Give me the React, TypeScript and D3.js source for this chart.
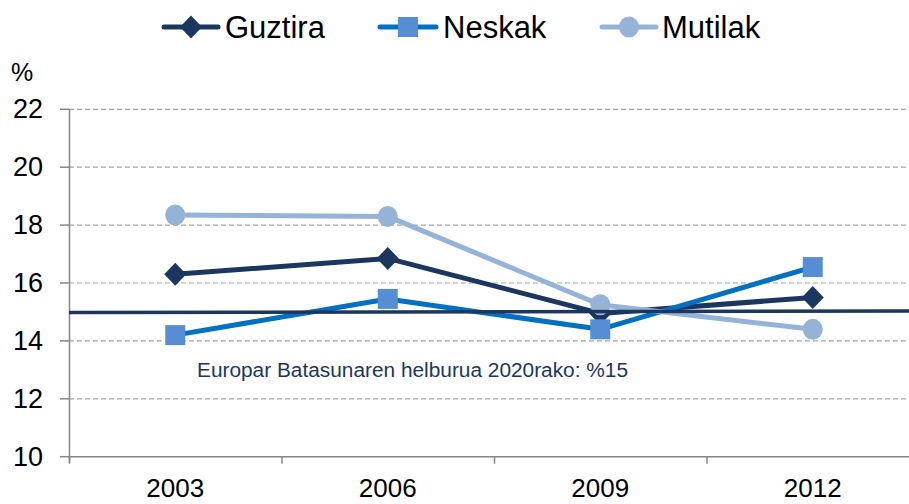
import React from "react";
import * as d3 from "d3";

const years = ["2003", "2006", "2009", "2012"];
const guztira = [16.3, 16.85, 14.95, 15.5];
const neskak = [14.2, 15.45, 14.4, 16.55];
const mutilak = [18.35, 18.3, 15.25, 14.4];
const targetValues = [14.98, 15.03];
const yTicks = [10, 12, 14, 16, 18, 20, 22];
const annotation = "Europar Batasunaren helburua 2020rako: %15";

const W = 909;
const H = 504;
const FONT = "'Liberation Sans', Arial, sans-serif";

const cNavy = "#1B365F";
const cBlue = "#0070C0";
const cBlueMarker = "#558ED5";
const cLight = "#95B3D7";
const cAxis = "#868686";
const cGrid = "#A6A6A6";

type Shape = "diamond" | "square" | "circle";

function Marker({ shape, x, y, fill }: { shape: Shape; x: number; y: number; fill: string }) {
  if (shape === "diamond") {
    const w = 11, h = 11.5;
    return <path d={`M${x},${y - h}L${x + w},${y}L${x},${y + h}L${x - w},${y}Z`} fill={fill} />;
  }
  if (shape === "square") {
    return <rect x={x - 10} y={y - 10} width={20} height={20} fill={fill} />;
  }
  return <ellipse cx={x} cy={y} rx={10} ry={10.5} fill={fill} />;
}

export default function App() {
  const x = d3.scaleBand<string>().domain(years).range([69, 919]).padding(0);
  const y = d3.scaleLinear().domain([10, 22]).range([456.7, 109.3]);
  const cx = (yr: string) => (x(yr) as number) + x.bandwidth() / 2;
  const line = d3
    .line<number>()
    .x((_, i) => cx(years[i]))
    .y((d) => y(d));

  const series = [
    { name: "Guztira", values: guztira, stroke: cNavy, fill: cNavy, shape: "diamond" as Shape },
    { name: "Neskak", values: neskak, stroke: cBlue, fill: cBlueMarker, shape: "square" as Shape },
    { name: "Mutilak", values: mutilak, stroke: cLight, fill: cLight, shape: "circle" as Shape },
  ];

  const legendPos = [
    { x1: 164, x2: 218, tx: 225 },
    { x1: 380, x2: 436, tx: 443 },
    { x1: 602, x2: 656, tx: 662 },
  ];

  const [x0, x1] = x.range();
  const targetLine = d3
    .line<number>()
    .x((_, i) => (i === 0 ? x0 : x1))
    .y((d) => y(d));

  return (
    <div style={{ position: "absolute", left: 0, top: 0 }}>
      <svg width={W} height={H} style={{ display: "block", background: "#fff" }}>
        {/* gridlines */}
        {yTicks.slice(1).map((t) => (
          <line key={t} x1={69} x2={W} y1={y(t)} y2={y(t)} stroke={cGrid} strokeWidth={1.2} strokeDasharray="5,3" />
        ))}
        {/* y axis */}
        <line x1={69.5} x2={69.5} y1={y(22)} y2={y(10) + 6} stroke={cAxis} strokeWidth={1.5} />
        {yTicks.map((t) => (
          <g key={t}>
            <line x1={60} x2={69.5} y1={y(t)} y2={y(t)} stroke={cAxis} strokeWidth={1.5} />
            <text x={43} y={y(t)} textAnchor="end" dominantBaseline="central" fontFamily={FONT} fontSize={27} fill="#000">
              {t}
            </text>
          </g>
        ))}
        <text x={11} y={81} fontFamily={FONT} fontSize={25} fill="#000">%</text>
        {/* x axis */}
        <line x1={69} x2={W} y1={y(10)} y2={y(10)} stroke={cAxis} strokeWidth={1.5} />
        {years.map((yr) => (
          <g key={yr}>
            <line x1={(x(yr) as number) + 0.5} x2={(x(yr) as number) + 0.5} y1={y(10)} y2={y(10) + 7} stroke={cAxis} strokeWidth={1.5} />
            <text x={cx(yr)} y={497} textAnchor="middle" fontFamily={FONT} fontSize={26} fill="#000">
              {yr}
            </text>
          </g>
        ))}
        {/* series */}
        {series.map((s) => (
          <g key={s.name}>
            <path d={line(s.values) || ""} fill="none" stroke={s.stroke} strokeWidth={5} strokeLinejoin="round" />
            {s.values.map((v, i) => (
              <Marker key={i} shape={s.shape} x={cx(years[i])} y={y(v)} fill={s.fill} />
            ))}
          </g>
        ))}
        {/* target line */}
        <path d={targetLine(targetValues) || ""} fill="none" stroke={cNavy} strokeWidth={3.5} />
        <text x={197} y={377} fontFamily={FONT} fontSize={20} fill={cNavy} textLength={431} lengthAdjust="spacingAndGlyphs">
          {annotation}
        </text>
        {/* legend */}
        {series.map((s, i) => {
          const p = legendPos[i];
          return (
            <g key={s.name}>
              <line x1={p.x1} x2={p.x2} y1={27} y2={27} stroke={s.stroke} strokeWidth={5} strokeLinecap="round" />
              <Marker shape={s.shape} x={(p.x1 + p.x2) / 2} y={27} fill={s.fill} />
              <text x={p.tx} y={38} fontFamily={FONT} fontSize={31} fill="#000">
                {s.name}
              </text>
            </g>
          );
        })}
      </svg>
    </div>
  );
}
